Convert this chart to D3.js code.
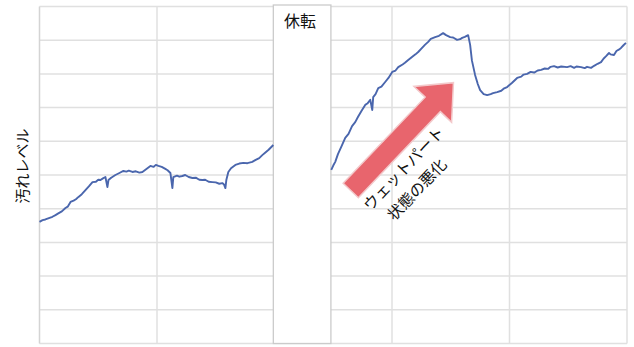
<!DOCTYPE html>
<html lang="ja">
<head>
<meta charset="utf-8">
<script src="https://cdn.jsdelivr.net/npm/d3@7"></script>
<style>
  html, body { margin: 0; padding: 0; background: #fff; }
  svg { display: block; }
  text { font-family: "Noto Sans CJK JP", "Noto Sans", sans-serif; fill: #111; }
</style>
</head>
<body>
<svg id="chart" width="634" height="347"></svg>
<script>
// Operating days (x) and contamination level (y), before and after the shutdown
const beforeDays = [0,2.6,5,8,11,13.6,16,19,22.1,24,26.4,29,31,33.2,36,39.1,42,45.1,48,50,51.9,54,56.1,57.8,58.7,61,64.6,68,71.4,74,76,79.1,82,85,87.6,91,94.4,97,99,101.2,104,107.1,109,111.4,113.1,113.9,117,119,121.6,124,127,130.1,133,136,138.6,141,144,147.1,150,153,155.6,157,158.2,159,160.7,163,166.7,170,173.5,177,181.1,184,187,189.6,192,195,199];
const beforeLevel = [3.61,3.66,3.68,3.72,3.76,3.81,3.86,3.92,4.02,4.06,4.20,4.24,4.28,4.35,4.43,4.55,4.66,4.79,4.80,4.86,4.85,4.90,4.94,4.64,4.85,4.92,5.00,5.06,5.12,5.10,5.13,5.09,5.11,5.07,5.09,5.18,5.27,5.24,5.30,5.27,5.24,5.18,5.14,5.06,4.61,4.94,4.98,4.95,4.97,5.00,4.94,4.91,4.92,4.86,4.85,4.86,4.80,4.79,4.78,4.74,4.76,4.72,4.61,4.85,5.09,5.20,5.30,5.34,5.36,5.35,5.39,5.45,5.50,5.59,5.66,5.75,5.89];

const afterDays = [248.3,250,251.7,254,257,260.2,263,266,268.7,271,274,277.2,279,281.5,283.2,284,286,288.3,291,294.2,297,300.2,303,305.3,309,311,313.8,317,320,322.3,325,328,330.8,333,336.7,340,343.5,346,349.5,352,355.4,358,359.7,362,364.8,366.5,368,370.7,373,375,378,381,384,386,389.5,393,395,398,402,406.5,410,412,415,418,421,424,426.9,430,433,435,437.9,441,444,449,452,455,457,460.9,464,466,469.4,472,475,477.9,480,482,484.7,486,488.9,491,493,494.9,497,499.1];
const afterLevel = [5.15,5.28,5.39,5.62,5.85,6.10,6.22,6.45,6.57,6.72,6.90,7.08,7.12,7.23,6.93,7.31,7.40,7.58,7.62,7.76,7.88,8.06,8.10,8.20,8.28,8.33,8.41,8.50,8.58,8.65,8.75,8.86,8.95,9.04,9.09,9.13,9.21,9.15,9.09,9.08,9.01,9.03,9.07,9.10,9.15,8.86,8.40,7.97,7.70,7.52,7.40,7.37,7.40,7.43,7.46,7.50,7.56,7.61,7.73,7.88,7.92,7.98,8.00,8.06,8.04,8.10,8.12,8.16,8.15,8.21,8.23,8.19,8.22,8.20,8.23,8.18,8.22,8.20,8.17,8.21,8.18,8.24,8.30,8.35,8.45,8.52,8.62,8.58,8.56,8.68,8.72,8.77,8.85,8.92];

// Grid ticks
const xTicks = [0, 100, 200, 300, 400, 500];
const yTicks = [0, 1, 2, 3, 4, 5, 6, 7, 8, 9, 10];

// Shutdown period and labels
const shutdownSpan = [199, 248];
const shutdownLabel = "休転";
const yLabel = "汚れレベル";

// Trend arrow: tail and tip in data units, and its caption
const arrowTail = [264.9, 4.54];
const arrowTip = [352.3, 7.74];
const arrowCaption = ["ウェットパート", "状態の悪化"];

const svg = d3.select("#chart");
const x = d3.scaleLinear().domain([0, 500]).range([39.5, 627]);
const y = d3.scaleLinear().domain([0, 10]).range([343.5, 6.5]);

// Gridlines
svg.append("g").selectAll("line").data(yTicks).join("line")
  .attr("x1", x(0)).attr("x2", x(500))
  .attr("y1", d => y(d)).attr("y2", d => y(d))
  .attr("stroke", "#e0e0e0").attr("stroke-width", 1.5);
svg.append("g").selectAll("line").data(xTicks).join("line")
  .attr("x1", d => x(d)).attr("x2", d => x(d))
  .attr("y1", y(0)).attr("y2", y(10))
  .attr("stroke", d => d === 0 ? "#d4d4d4" : "#e0e0e0").attr("stroke-width", 1.5);

// Shutdown box
svg.append("rect")
  .attr("x", x(shutdownSpan[0])).attr("y", 5)
  .attr("width", x(shutdownSpan[1]) - x(shutdownSpan[0]))
  .attr("height", 338.5)
  .attr("fill", "#fff").attr("stroke", "#cbcbcb").attr("stroke-width", 1.3);
svg.append("text")
  .attr("x", (x(shutdownSpan[0]) + x(shutdownSpan[1])) / 2 - 2)
  .attr("y", 27)
  .attr("text-anchor", "middle")
  .attr("font-size", 16)
  .text(shutdownLabel);

// Contamination level lines
const line = d3.line().x(d => x(d[0])).y(d => y(d[1]));
[[beforeDays, beforeLevel], [afterDays, afterLevel]].forEach(([xs, ys]) => {
  svg.append("path")
    .datum(d3.zip(xs, ys))
    .attr("d", line)
    .attr("fill", "none")
    .attr("stroke", "#4a66ad")
    .attr("stroke-width", 1.9)
    .attr("stroke-linejoin", "round");
});

// Y axis title
svg.append("text")
  .attr("transform", "translate(28,166) rotate(-90)")
  .attr("text-anchor", "middle")
  .attr("font-size", 15)
  .text(yLabel);

// Trend arrow
const tx = x(arrowTail[0]), ty = y(arrowTail[1]);
const hx = x(arrowTip[0]), hy = y(arrowTip[1]);
const len = Math.hypot(hx - tx, hy - ty);
const ang = Math.atan2(hy - ty, hx - tx) * 180 / Math.PI;
const shaftW = 21, headW = 52, headL = 30;
const arrowPts = [
  [0, -shaftW / 2], [len - headL, -shaftW / 2], [len - headL, -headW / 2],
  [len, 0], [len - headL, headW / 2], [len - headL, shaftW / 2], [0, shaftW / 2]
];
svg.append("polygon")
  .attr("transform", `translate(${tx},${ty}) rotate(${ang})`)
  .attr("points", arrowPts.map(p => p.join(",")).join(" "))
  .attr("fill", "#e8656d")
  .attr("stroke", "#f3c9cb")
  .attr("stroke-width", 1.5);

// Arrow caption, parallel to the arrow and just below it
const cap = svg.append("text")
  .attr("transform", `translate(${tx + 57},${ty - 18}) rotate(${ang})`)
  .attr("text-anchor", "middle")
  .attr("font-size", 15.5);
cap.selectAll("tspan").data(arrowCaption).join("tspan")
  .attr("x", (d, i) => i * -6)
  .attr("y", (d, i) => i * 24)
  .text(d => d);
</script>
</body>
</html>
